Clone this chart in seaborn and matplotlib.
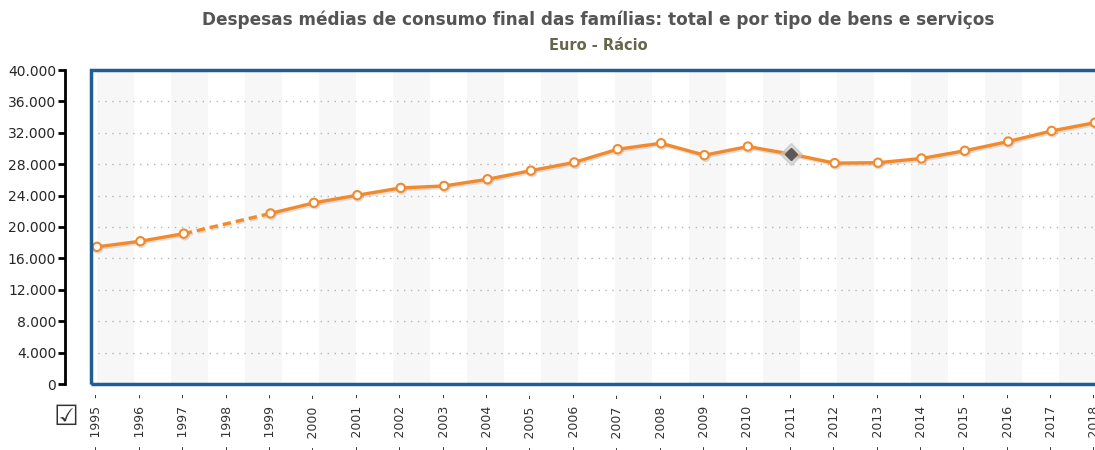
import numpy as np
import pandas as pd
import matplotlib
matplotlib.use("Agg")
import matplotlib.pyplot as plt
import matplotlib.patheffects as pe
from matplotlib.patches import Rectangle
import seaborn as sns

# values (1998 has no value)
years = list(range(1995, 2019))
despesa = [17470, 18190, 19150, np.nan, 21730, 23080, 24050, 24980, 25230, 26080,
           27180, 28230, 29910, 30670, 29150, 30250, 29280, 28140, 28190, 28730,
           29710, 30890, 32240, 33290]
highlight_year = 2011
y_ticks = list(range(0, 40001, 4000))

title = "Despesas médias de consumo final das famílias: total e por tipo de bens e serviços"
subtitle = "Euro - Rácio"

df = pd.DataFrame({"ano": years, "valor": despesa})
orange = "#f28a2c"
blue = "#1f5d96"

sns.set_style("white")
plt.rcParams["font.family"] = ["DejaVu Sans"]

fig = plt.figure(figsize=(10.95, 4.5), dpi=100)
ax = fig.add_axes([91 / 1095, 1 - 384 / 450, 1 - 91 / 1095, 314 / 450])

# alternating background columns
px_per_year = (1095 - 97) / 23
band = 37 / px_per_year
x0 = 1995 - 6 / px_per_year
start = 1995 + (134 - 97) / px_per_year - 2 * band
k = 0
while start < 2019:
    if k % 2 == 1:
        ax.axvspan(max(start, x0), start + band, color="#f7f7f7", lw=0, zorder=0)
    start += band
    k += 1

# dotted grid lines
for v in y_ticks[1:-1]:
    ax.axhline(v, color="#b4b4b4", lw=1, ls=(0, (1, 4)), zorder=1)

shadow = [pe.SimpleLineShadow(offset=(0.8, -1.2), shadow_color="#999999", alpha=0.3), pe.Normal()]

seg1 = df[df["ano"] < 1998]
seg2 = df[df["ano"] > 1998]
for seg in (seg1, seg2):
    sns.lineplot(data=seg, x="ano", y="valor", ax=ax, color=orange, lw=2.4,
                 marker="o", markersize=6, markerfacecolor="white",
                 markeredgecolor=orange, markeredgewidth=1.5, zorder=3,
                 path_effects=shadow)

# dashed bridge over the missing year
gap = df[(df["ano"] >= 1997) & (df["ano"] <= 1999)].dropna()
ax.plot(gap["ano"], gap["valor"], color=orange, lw=2.4, ls=(0, (2.5, 1.5)), zorder=2,
        path_effects=shadow)

hl = df[df["ano"] == highlight_year]
ax.plot(hl["ano"], hl["valor"], marker="D", markersize=11, color="#c4c4c4", alpha=0.6, zorder=4)
ax.plot(hl["ano"], hl["valor"], marker="D", markersize=6.5, color="#5a5a5a", zorder=5)

ax.set_xlim(x0, 2018)
ax.set_ylim(0, 40000)
ax.set_xlabel("")
ax.set_ylabel("")

ax.set_yticks(y_ticks)
ax.set_yticklabels([f"{v:,}".replace(",", ".") for v in y_ticks], fontsize=9.5, color="#444444")
ax.set_xticks(years)
ax.set_xticklabels([f"-  {y}  -" for y in years], rotation=90, fontsize=9, color="#333333")
ax.tick_params(axis="x", length=0, pad=7)
ax.tick_params(axis="y", length=5, width=2, color="black", pad=1, left=True)

for s in ["top", "right", "bottom"]:
    ax.spines[s].set_visible(False)
ax.spines["left"].set_position(("outward", 19))
ax.spines["left"].set_color("black")
ax.spines["left"].set_linewidth(2)

ax.add_patch(Rectangle((0, 0), 1.05, 1, transform=ax.transAxes, fill=False,
                       edgecolor=blue, lw=2.5, clip_on=False, zorder=6))

fig.text(0.546, 1 - 20 / 450, title, ha="center", va="center", fontsize=12.2,
         fontweight="bold", color="#555555")
fig.text(0.546, 1 - 46 / 450, subtitle, ha="center", va="center", fontsize=10.5,
         fontweight="bold", color="#66664a")
fig.text(66 / 1095, 1 - 417 / 450, "\u2611", ha="center", va="center", fontsize=20,
         color="#333333")

fig.savefig("out.png", dpi=100)
